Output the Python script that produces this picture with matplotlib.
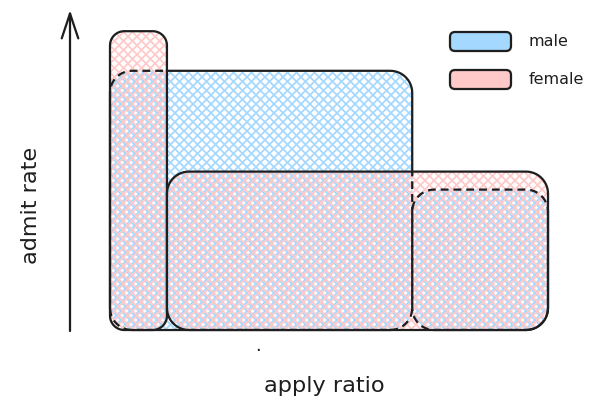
import numpy as np
import matplotlib
matplotlib.use("Agg")
import matplotlib.pyplot as plt
from matplotlib.patches import Polygon, FancyBboxPatch
from matplotlib.path import Path
from matplotlib.collections import LineCollection

# data: share of applicants (apply ratio) and admit rate per department
departments = ["A", "B"]
male_apply = [0.69, 0.31]
male_admit = [0.72, 0.39]
female_apply = [0.13, 0.87]
female_admit = [0.83, 0.44]

male_color = "#a5d8ff"
female_color = "#ffc9c9"
ink = "#1e1e1e"

W, H, DPI = 590, 415, 85
plt.rcParams["font.family"] = ["DejaVu Sans"]

fig = plt.figure(figsize=(W / DPI, H / DPI), dpi=DPI)

# plot area in figure pixels
left_px, bottom_px, width_px = 110, 85, 438
ymax = 0.9
height_px = 360 * ymax
ax = fig.add_axes([left_px / W, bottom_px / H, width_px / W, height_px / H])
ax.set_xlim(0, 1)
ax.set_ylim(0, ymax)
ax.axis("off")

# overlay in figure pixels for hatching, axis arrow, labels and legend
ov = fig.add_axes([0, 0, 1, 1], zorder=5)
ov.set_xlim(0, W)
ov.set_ylim(H, 0)
ov.axis("off")
ov.patch.set_alpha(0)

# data units per pixel, to keep round corners circular on screen
dx = 1 / width_px
dy = ymax / height_px


def rounded_rect(x0, y0, w, h, r_px, n=14):
    """Counter-clockwise polygon of a rounded rectangle (data coords)."""
    rx, ry = r_px * dx, r_px * dy
    pts = []
    corners = [(x0 + w - rx, y0 + ry, -90), (x0 + w - rx, y0 + h - ry, 0),
               (x0 + rx, y0 + h - ry, 90), (x0 + rx, y0 + ry, 180)]
    for cx, cy, a0 in corners:
        t = np.radians(np.linspace(a0, a0 + 90, n))
        pts += list(zip(cx + rx * np.cos(t), cy + ry * np.sin(t)))
    return np.array(pts)


def radius_for(w, h):
    side = min(w / dx, h / dy)
    return 0.25 * side if side < 128 else 22


def stacked(apply, admit):
    shapes = []
    x = 0
    for a, r in zip(apply, admit):
        shapes.append(rounded_rect(x, 0, a, r, radius_for(a, r)))
        x += a
    return shapes


def closed_path(pts):
    verts = np.vstack([pts, pts[:1]])
    codes = [Path.MOVETO] + [Path.LINETO] * (len(pts) - 1) + [Path.CLOSEPOLY]
    return Path(verts, codes)


def cross_hatch(pts, color, step, offset, z):
    # 45 degree cross hatching over the whole canvas, clipped to the shape
    segs = []
    for c in np.arange(-H - step + offset, W + H + step, step):
        segs.append([(c, 0), (c + H, H)])
        segs.append([(c, H), (c + H, 0)])
    lc = LineCollection(segs, colors=color, linewidths=1.5, zorder=z)
    ov.add_collection(lc)
    lc.set_clip_path(closed_path(pts), ax.transData)


male_shapes = stacked(male_apply, male_admit)
female_shapes = stacked(female_apply, female_admit)

for pts in male_shapes:
    cross_hatch(pts, male_color, 9.0, 0.0, 1)
for pts in female_shapes:
    cross_hatch(pts, female_color, 9.0, 2.5, 2)

# clip paths: inside the female shapes, and everything outside them
outer = np.array([[-1, -1], [2, -1], [2, 2], [-1, 2]])
inside_f = Path.make_compound_path(*[closed_path(p) for p in female_shapes])
outside_f = Path.make_compound_path(closed_path(outer),
                                    *[closed_path(p[::-1]) for p in female_shapes])

for pts in male_shapes:
    solid = Polygon(pts, closed=True, fill=False, edgecolor=ink, linewidth=1.9,
                    zorder=3)
    ov.add_patch(solid)
    solid.set_transform(ax.transData)
    solid.set_clip_path(outside_f, ax.transData)
    dashed = Polygon(pts, closed=True, fill=False, edgecolor=ink, linewidth=1.9,
                     linestyle=(0, (3.5, 2.2)), zorder=3)
    ov.add_patch(dashed)
    dashed.set_transform(ax.transData)
    dashed.set_clip_path(inside_f, ax.transData)

for pts in female_shapes:
    outline = Polygon(pts, closed=True, fill=False, edgecolor=ink, linewidth=1.9,
                      zorder=4, clip_on=False)
    ov.add_patch(outline)
    outline.set_transform(ax.transData)

ov.annotate("", xy=(70, 10), xytext=(70, 331),
            arrowprops=dict(arrowstyle="->,head_length=2.1,head_width=0.7",
                            color=ink, lw=1.9, shrinkA=0, shrinkB=0))
ov.text(31, 205, "admit rate", rotation=90, ha="center", va="center",
        fontsize=19, color=ink)
ov.text(324, 386, "apply ratio", ha="center", va="center", fontsize=19, color=ink)
ov.text(258, 346, ".", ha="center", va="center", fontsize=15, color=ink)

legend_items = [("male", male_color), ("female", female_color)]
for i, (name, col) in enumerate(legend_items):
    y0 = 32 + i * 38
    ov.add_patch(FancyBboxPatch((450, y0), 61, 19,
                                boxstyle="round,pad=0,rounding_size=5",
                                facecolor=col, edgecolor=ink, linewidth=1.9,
                                zorder=4))
    ov.text(529, y0 + 10, name, ha="left", va="center", fontsize=13.5, color=ink)

fig.savefig("out.png", dpi=DPI, facecolor="white")
